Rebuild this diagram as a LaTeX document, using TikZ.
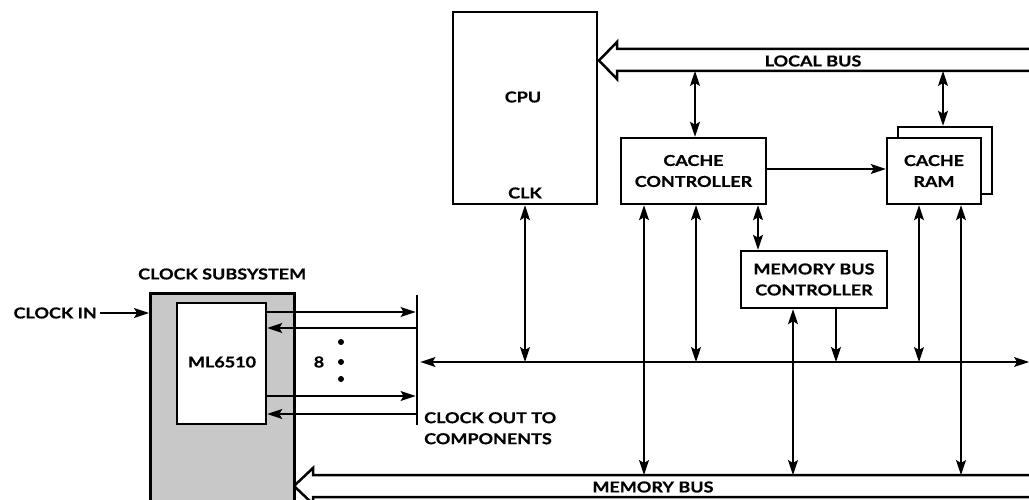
\documentclass[tikz,border=0pt]{standalone}
\usepackage{fontspec}
\setmainfont{Lato}[FakeStretch=1.2,BoldFeatures={FakeBold=0.7}]
\usetikzlibrary{arrows.meta,calc}
\definecolor{boxgray}{RGB}{200,200,200}
\tikzset{
  conn/.style={line width=1.2pt},
  dbl/.style={conn,{Stealth[length=15pt,width=10pt,inset=3pt]}-{Stealth[length=15pt,width=10pt,inset=3pt]}},
  sgl/.style={conn,-{Stealth[length=15pt,width=10pt,inset=3pt]}},
  txtfont/.style={font=\fontsize{15}{21}\selectfont\bfseries},
  blk/.style={draw,line width=2.5pt,fill=white,inner sep=0pt,align=center,txtfont},
  lbl/.style={txtfont,inner sep=0pt,align=center},
  busline/.style={line width=2.5pt,fill=white,line join=miter},
}
\begin{document}
\begin{tikzpicture}[x=1pt,y=-1pt]
\useasboundingbox (0,0) rectangle (1029,500);
\clip (0,0) rectangle (1029,500);
% buses
\draw[busline] (1040,49) -- (617,49) -- (617,42) -- (599,60.5) -- (617,79) -- (617,71) -- (1040,71);
\coordinate (lbus) at (0,71);
\node[lbl] (lbustxt) at (813,61) {LOCAL BUS};
\draw[busline] (1040,475) -- (313,475) -- (313,468) -- (294,486) -- (313,504) -- (313,497) -- (1040,497);
\coordinate (mbus) at (0,475);
\node[lbl] (mbustxt) at (653,487) {MEMORY BUS};
% boxes
\node[blk,minimum width=144pt,minimum height=192pt] (cpu) at (525,108) {};
\node[lbl] (cputxt) at (523,97) {CPU};
\node[lbl] (clk) at (525,193) {CLK};
\node[blk,minimum width=145pt,minimum height=66pt] (cc) at (693.5,171) {CACHE\\CONTROLLER};
\node[blk,minimum width=94pt,minimum height=67pt] (ramb) at (945,160.5) {};
\node[blk,minimum width=94pt,minimum height=66pt] (ram) at (934,171) {CACHE\\RAM};
\node[blk,minimum width=146pt,minimum height=57pt] (mbc) at (814,279.5) {MEMORY BUS\\CONTROLLER};
% clock subsystem
\node[lbl,anchor=west] (cstxt) at (138,274) {CLOCK SUBSYSTEM};
\node[draw,line width=2.5pt,fill=boxgray,minimum width=144pt,minimum height=240pt,anchor=north west,inner sep=0pt] (cs) at (149,292) {};
\node[blk,minimum width=89pt,minimum height=121pt] (ml) at (221.5,363.5) {};
\node[lbl] (mltxt) at (222,362) {ML6510};
\node[lbl,anchor=east] (cin) at (97,313) {CLOCK IN};
\draw[sgl] (cin.east) ++(3,0) -- (cs.west |- cin.east);
\node[fill=black,minimum width=2.5pt,minimum height=130pt,inner sep=0pt] (bar) at (417,360) {};
\node[lbl,anchor=north west,align=left] (cout) at (424,412) {CLOCK OUT TO\\COMPONENTS};
\node[lbl] (eight) at (319,362) {8};
\foreach \y [count=\i] in {342,362,379} \fill (341,\y) circle (3pt) coordinate (dot\i);
% ML arrows
\draw[sgl] (ml.east |- 0,312) -- (bar.west |- 0,312);
\draw[sgl] (bar.west |- 0,328) -- (ml.east |- 0,328);
\draw[sgl] (ml.east |- 0,396) -- (bar.west |- 0,396);
\draw[sgl] (bar.west |- 0,414) -- (ml.east |- 0,414);
% clock line
\coordinate (hl) at (0,362);
\draw[dbl] (bar.east |- hl) ++(2,0) -- (1029,362) coordinate (hlend);
% vertical connectors
\draw[dbl] (cpu.south) -- (cpu.south |- hl);
\draw[dbl] (cc.south -| 644,0) -- (mbus -| 644,0);
\draw[dbl] (cc.south -| 696,0) -- (hl -| 696,0);
\draw[dbl] (cc.south -| 758,0) -- (mbc.north -| 758,0);
\draw[dbl] (lbus -| 695,0) -- (cc.north -| 695,0);
\draw[dbl] (lbus -| 943,0) -- (ramb.north -| 943,0);
\draw[sgl] (cc.east |- 0,169) -- (ram.west |- 0,169);
\draw[dbl] (mbc.south -| 793,0) -- (mbus -| 793,0);
\draw[sgl] (mbc.south -| 836,0) -- (hl -| 836,0);
\draw[dbl] (ram.south -| 919,0) -- (hl -| 919,0);
\draw[dbl] (ram.south -| 961,0) -- (mbus -| 961,0);
\end{tikzpicture}
\end{document}
